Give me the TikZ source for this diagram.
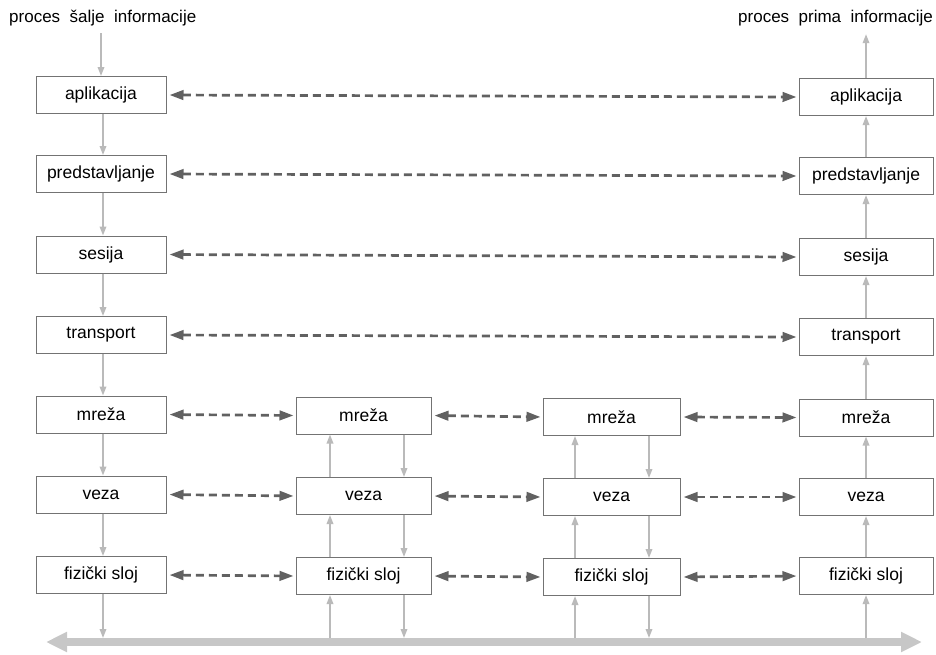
\documentclass[tikz,border=0pt]{standalone}
\usepackage{fontspec}
\setmainfont{Liberation Sans}
\usetikzlibrary{arrows.meta}
\begin{document}
\begin{tikzpicture}[x=1pt,y=-1pt,
  box/.style={draw=black!55, line width=1pt, fill=white, minimum height=37pt, inner sep=0pt, font=\fontsize{17.5}{20}\selectfont},
  cA/.style={box, minimum width=130pt},
  cB/.style={box, minimum width=135pt},
  cC/.style={box, minimum width=137pt},
  cD/.style={box, minimum width=134pt},
  peer/.style={draw=black!62, line width=2.7pt, dash pattern=on 8pt off 5pt,
    {Triangle[length=14pt,width=9.5pt]}-{Triangle[length=14pt,width=9.5pt]}, shorten <=3pt, shorten >=2pt},
  flow/.style={draw=black!27, line width=1.7pt, -{Triangle[length=9pt,width=6.5pt]}},
  bus/.style={draw=black!22, line width=8pt, {Triangle[length=21pt,width=19pt]}-{Triangle[length=21pt,width=19pt]}},
  lbl/.style={font=\fontsize{17}{20}\selectfont, inner sep=0pt}
]
\useasboundingbox (0,0) rectangle (936,654);

% labels
\node[lbl, anchor=west] (t1) at (9,18) {proces\ \ šalje\ \ informacije};
\node[lbl, anchor=east] (t2) at (933,18) {proces\ \ prima\ \ informacije};

% column 1
\node[cA] (a1) at (101,95) {aplikacija};
\node[cA] (p1) at (101,174) {predstavljanje};
\node[cA] (s1) at (101,254.5) {sesija};
\node[cA] (tr1) at (101,335) {transport};
\node[cA] (m1) at (101,414.5) {mreža};
\node[cA] (v1) at (101,494.5) {veza};
\node[cA] (f1) at (101,575) {fizički sloj};

% column 2
\node[cB] (m2) at (363.5,415.5) {mreža};
\node[cB] (v2) at (363.5,496) {veza};
\node[cB] (f2) at (363.5,576) {fizički sloj};

% column 3
\node[cC] (m3) at (611.5,417) {mreža};
\node[cC] (v3) at (611.5,497) {veza};
\node[cC] (f3) at (611.5,577) {fizički sloj};

% column 4
\node[cD] (a4) at (866,97) {aplikacija};
\node[cD] (p4) at (866,176) {predstavljanje};
\node[cD] (s4) at (866,257) {sesija};
\node[cD] (tr4) at (866,337) {transport};
\node[cD] (m4) at (866,417.5) {mreža};
\node[cD] (v4) at (866,497) {veza};
\node[cD] (f4) at (866,576) {fizički sloj};

% bus
\coordinate (busL) at (46,642);
\coordinate (busR) at (922,642);
\draw[bus] (busL) -- (busR);

% peer dashed arrows
\draw[peer] (a1.east) -- (a4.west);
\draw[peer] (p1.east) -- (p4.west);
\draw[peer] (s1.east) -- (s4.west);
\draw[peer] (tr1.east) -- (tr4.west);
\draw[peer] (m1.east) -- (m2.west);
\draw[peer] (m2.east) -- (m3.west);
\draw[peer] (m3.east) -- (m4.west);
\draw[peer] (v1.east) -- (v2.west);
\draw[peer] (v2.east) -- (v3.west);
\draw[peer] (v3.east) -- (v4.west);
\draw[peer] (f1.east) -- (f2.west);
\draw[peer] (f2.east) -- (f3.west);
\draw[peer] (f3.east) -- (f4.west);

% column 1 downward flow
\draw[flow, shorten <=7pt] (a1.north |- t1.south) -- (a1.north);
\draw[flow] ([xshift=2pt]a1.south) -- ([xshift=2pt]p1.north);
\draw[flow] ([xshift=2pt]p1.south) -- ([xshift=2pt]s1.north);
\draw[flow] ([xshift=2pt]s1.south) -- ([xshift=2pt]tr1.north);
\draw[flow] ([xshift=2pt]tr1.south) -- ([xshift=2pt]m1.north);
\draw[flow] ([xshift=2pt]m1.south) -- ([xshift=2pt]v1.north);
\draw[flow] ([xshift=2pt]v1.south) -- ([xshift=2pt]f1.north);
\draw[flow, shorten >=4pt] ([xshift=2pt]f1.south) -- ([xshift=2pt]f1.south |- busL);

% column 4 upward flow
\draw[flow, shorten >=8pt] (a4.north) -- (a4.north |- t2.south);
\draw[flow] (p4.north) -- (a4.south);
\draw[flow] (s4.north) -- (p4.south);
\draw[flow] (tr4.north) -- (s4.south);
\draw[flow] (m4.north) -- (tr4.south);
\draw[flow] (v4.north) -- (m4.south);
\draw[flow] (f4.north) -- (v4.south);
\draw[flow, shorten <=4pt] (f4.south |- busL) -- (f4.south);

% column 2 up / down
\draw[flow, shorten <=4pt] ([xshift=-33.5pt]f2.south |- busL) -- ([xshift=-33.5pt]f2.south);
\draw[flow] ([xshift=-33.5pt]f2.north) -- ([xshift=-33.5pt]f2.north |- v2.south);
\draw[flow] ([xshift=-33.5pt]v2.north) -- ([xshift=-33.5pt]v2.north |- m2.south);
\draw[flow] ([xshift=40.5pt]m2.south) -- ([xshift=40.5pt]m2.south |- v2.north);
\draw[flow] ([xshift=40.5pt]v2.south) -- ([xshift=40.5pt]v2.south |- f2.north);
\draw[flow, shorten >=4pt] ([xshift=40.5pt]f2.south) -- ([xshift=40.5pt]f2.south |- busL);

% column 3 up / down
\draw[flow, shorten <=4pt] ([xshift=-36.5pt]f3.south |- busL) -- ([xshift=-36.5pt]f3.south);
\draw[flow] ([xshift=-36.5pt]f3.north) -- ([xshift=-36.5pt]f3.north |- v3.south);
\draw[flow] ([xshift=-36.5pt]v3.north) -- ([xshift=-36.5pt]v3.north |- m3.south);
\draw[flow] ([xshift=37.5pt]m3.south) -- ([xshift=37.5pt]m3.south |- v3.north);
\draw[flow] ([xshift=37.5pt]v3.south) -- ([xshift=37.5pt]v3.south |- f3.north);
\draw[flow, shorten >=4pt] ([xshift=37.5pt]f3.south) -- ([xshift=37.5pt]f3.south |- busL);
\end{tikzpicture}
\end{document}
